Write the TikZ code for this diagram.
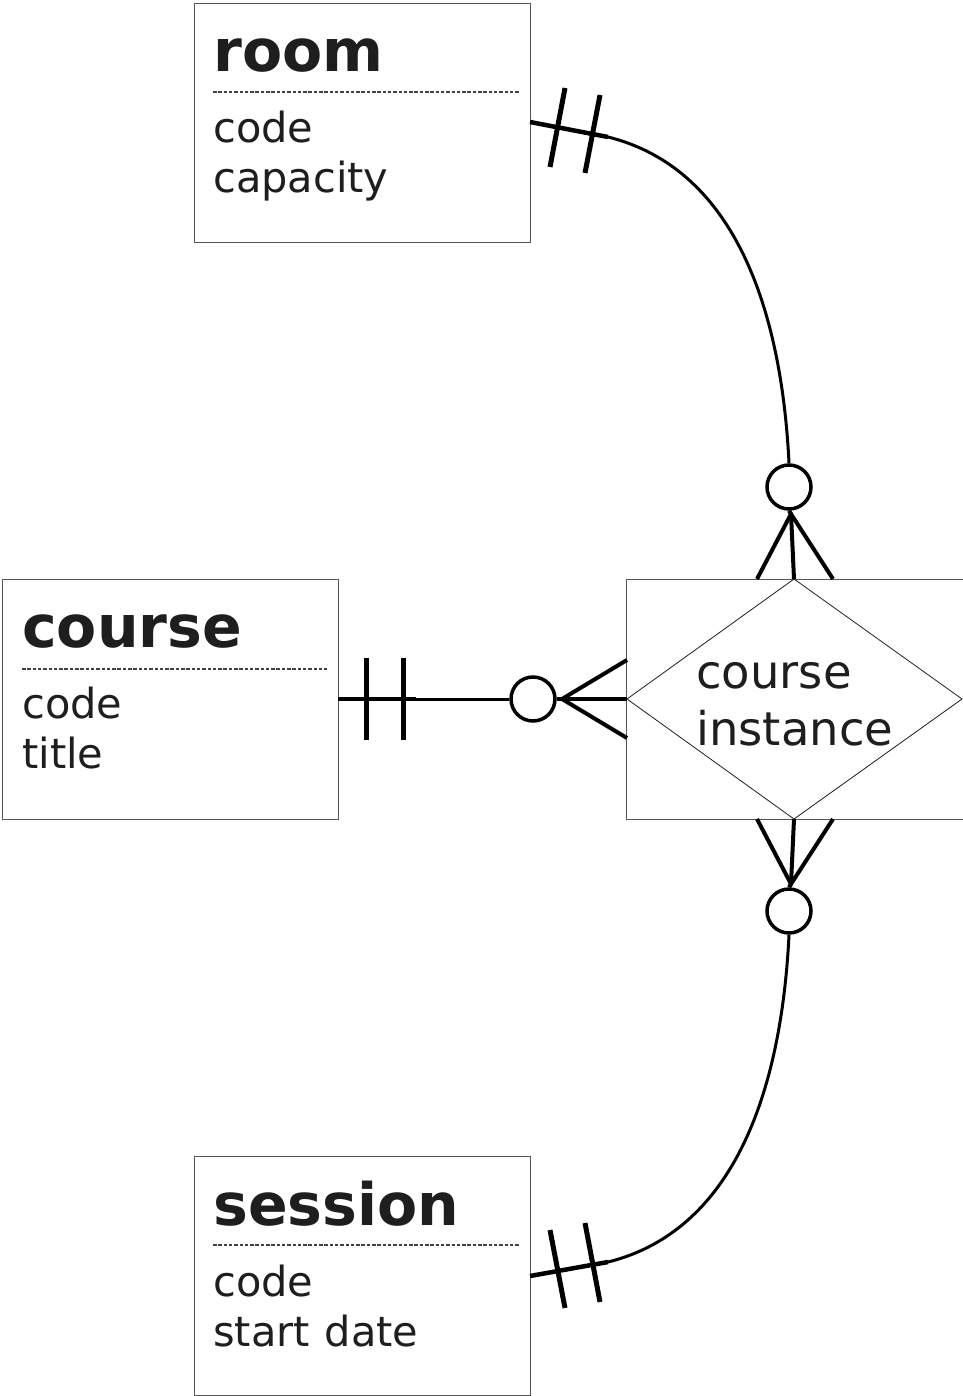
\documentclass[tikz,border=0pt]{standalone}
\usepackage{fontspec}
\setmainfont{DejaVu Sans}
\newcommand\widespace{\spaceskip=0.36em\relax}
\begin{document}
\begin{tikzpicture}[x=1pt,y=-1pt]
\definecolor{boxgray}{HTML}{555555}
\definecolor{txt}{HTML}{1E1E1E}
\tikzset{
  entbox/.style={draw=boxgray, line width=1.2pt, fill=white, inner sep=0pt, anchor=north west},
  ttl/.style={font=\fontsize{58.5}{64}\selectfont\bfseries, text=txt, inner sep=0pt, anchor=base west},
  attr/.style={font=\fontsize{41.5}{50}\selectfont, text=txt, inner sep=0pt, anchor=base west},
  relt/.style={font=\fontsize{46.5}{57}\selectfont, text=txt, inner sep=0pt, anchor=base west},
  dashline/.style={draw=txt!85, line width=1.6pt, dash pattern=on 3.5pt off 1.8pt},
  thickseg/.style={line width=4.5pt},
  conn/.style={line width=3pt},
  tick/.style={line width=5pt},
  foot/.style={line width=4pt},
  circ/.style={circle, draw, line width=3.5pt, minimum size=44pt, inner sep=0pt, fill=white},
}
\useasboundingbox (0,0) rectangle (962,1396);
\fill[white] (0,0) rectangle (962,1396);

% entities
\node[entbox, minimum width=336pt, minimum height=239pt] (room) at (194,3) {};
\node[ttl] (roomT) at (213,72) {room};
\draw[dashline] (213,92) -- (519,92);
\node[attr] (roomA) at (213,143) {code};
\node[attr] (roomB) at (213,193) {capacity};

\node[entbox, minimum width=336pt, minimum height=240pt] (course) at (2,579) {};
\node[ttl] (courseT) at (22,647) {course};
\draw[dashline] (22,669) -- (327,669);
\node[attr] (courseA) at (22,718) {code};
\node[attr] (courseB) at (22,768) {title};

\node[entbox, minimum width=336pt, minimum height=239pt] (session) at (194,1156) {};
\node[ttl] (sessionT) at (213,1225) {session};
\draw[dashline] (213,1245) -- (519,1245);
\node[attr] (sessionA) at (213,1296) {code};
\node[attr] (sessionB) at (213,1346) {\widespace start date};

% relationship
\node[entbox, minimum width=340pt, minimum height=240pt] (ci) at (626,579) {};
\coordinate (dL) at (627,699);
\coordinate (dT) at (794,579);
\coordinate (dR) at (962,699);
\coordinate (dB) at (794,819);
\draw[draw=txt, line width=0.8pt] (dL) -- (dT) -- (dR) -- (dB) -- cycle;
\node[relt] (ciA) at (696,688) {course};
\node[relt] (ciB) at (696,745) {instance};

% course -- course instance
\coordinate (co1) at (338,699);
\coordinate (co2) at (416,699);
\node[circ] (cc) at (533,699) {};
\coordinate (coapex) at (562,699);
\draw[thickseg] (co1) -- (co2);
\draw[conn] (co2) -- (cc.west);
\draw[tick] (366,658) -- (366,740);
\draw[tick] (403,658) -- (403,740);
\draw[foot] (cc.east) -- (coapex);
\draw[foot] (627,660) -- (coapex) -- (627,738);
\draw[foot] (coapex) -- (627,699);

% room -- course instance
\coordinate (r1) at (530,122);
\coordinate (r2) at (608,137);
\node[circ] (rc) at (789,487) {};
\coordinate (rapex) at (791,514);
\draw[thickseg] (r1) -- (r2);
\draw[conn] (r2) .. controls (740,170) and (782,320) .. (rc.north);
\draw[tick] (565,88) -- (550,167);
\draw[tick] (600,95) -- (585,173);
\draw[foot] (rc.south) -- (rapex);
\draw[foot] (757,579) -- (rapex) -- (833,579);
\draw[foot] (rapex) -- (794,579);

% session -- course instance
\coordinate (s1) at (530,1276);
\coordinate (s2) at (608,1262);
\node[circ] (sc) at (789,911) {};
\coordinate (sapex) at (791,884);
\draw[thickseg] (s1) -- (s2);
\draw[conn] (s2) .. controls (740,1229) and (782,1079) .. (sc.south);
\draw[tick] (550,1230) -- (565,1308);
\draw[tick] (585,1223) -- (600,1302);
\draw[foot] (sc.north) -- (sapex);
\draw[foot] (757,819) -- (sapex) -- (833,819);
\draw[foot] (sapex) -- (794,819);
\end{tikzpicture}
\end{document}
